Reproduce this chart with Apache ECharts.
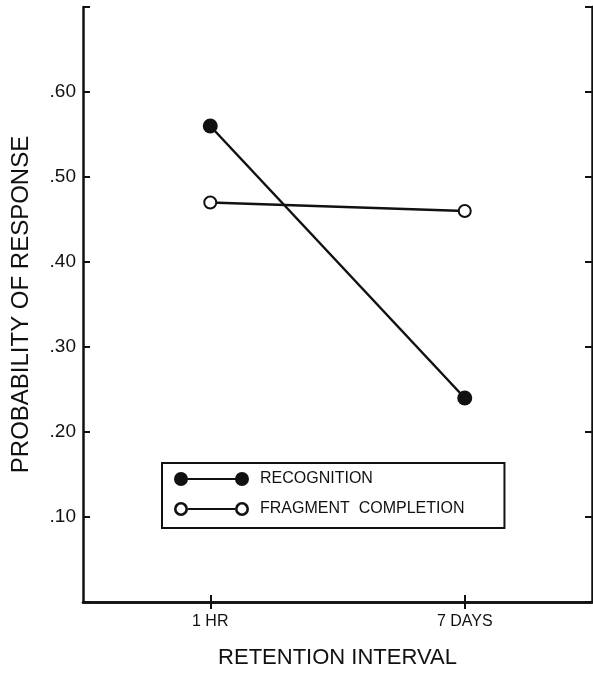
<!DOCTYPE html>
<html>
<head>
<meta charset="utf-8">
<script src="https://cdn.jsdelivr.net/npm/echarts@6/dist/echarts.min.js"></script>
<style>
html,body{margin:0;padding:0;background:#fff;}
#chart{width:593px;height:674px;}
</style>
</head>
<body>
<div id="chart"></div>
<script>
// ---- data ----
var categories = ['1 HR', '7 DAYS'];
var recognition = [0.56, 0.24];
var fragmentCompletion = [0.47, 0.46];
var seriesNames = ['RECOGNITION', 'FRAGMENT COMPLETION'];
var yTickValues = [0.1, 0.2, 0.3, 0.4, 0.5, 0.6];
var yTickLabels = ['.10', '.20', '.30', '.40', '.50', '.60'];
var xTitle = 'RETENTION INTERVAL';
var yTitle = 'PROBABILITY OF RESPONSE';

var INK = '#111';
var FONT = '"Liberation Sans", Arial, sans-serif';

// legend icons: marker - line - marker (75 x 14 box)
var filledIcon = 'path://M0,7A7,7 0 1,1 14,7A7,7 0 1,1 0,7Z' +
  'M61,7A7,7 0 1,1 75,7A7,7 0 1,1 61,7Z' +
  'M7,5.9L68,5.9L68,8.1L7,8.1Z';
var hollowIcon = 'path://M0,7A7,7 0 1,1 14,7A7,7 0 1,1 0,7Z' +
  'M2.6,7A4.4,4.4 0 1,0 11.4,7A4.4,4.4 0 1,0 2.6,7Z' +
  'M61,7A7,7 0 1,1 75,7A7,7 0 1,1 61,7Z' +
  'M63.6,7A4.4,4.4 0 1,0 72.4,7A4.4,4.4 0 1,0 63.6,7Z' +
  'M14,5.9L61,5.9L61,8.1L14,8.1Z';

function yLabel(v) {
  for (var i = 0; i < yTickValues.length; i++) {
    if (Math.abs(yTickValues[i] - v) < 1e-6) return yTickLabels[i];
  }
  return '';
}

var axisLine = {show: true, lineStyle: {color: INK, width: 2.5}};

var chart = echarts.init(document.getElementById('chart'), null, {renderer: 'canvas'});
chart.setOption({
  animation: false,
  backgroundColor: '#fff',
  grid: {left: 83, right: 1, top: 7, bottom: 69, containLabel: false},
  legend: {
    orient: 'vertical',
    left: 162,
    top: 463,
    padding: [8, 40, 11, 12],
    itemWidth: 75,
    itemHeight: 14,
    itemGap: 14,
    borderColor: INK,
    borderWidth: 2,
    borderRadius: 0,
    formatter: function (n) { return n.replace(' ', '  '); },
    textStyle: {color: INK, fontFamily: FONT, fontSize: 16, padding: [0, 0, 0, 6]},
    data: [
      {name: seriesNames[0], icon: filledIcon, itemStyle: {color: INK, borderWidth: 0}},
      {name: seriesNames[1], icon: hollowIcon, itemStyle: {color: INK, borderWidth: 0}}
    ]
  },
  xAxis: [
    {
      type: 'category',
      data: categories,
      position: 'bottom',
      boundaryGap: true,
      axisLine: axisLine,
      axisTick: {show: true, inside: true, alignWithLabel: true, length: 7, lineStyle: {color: INK, width: 2}},
      axisLabel: {color: INK, fontFamily: FONT, fontSize: 16, margin: 12},
      splitLine: {show: false},
      name: xTitle,
      nameLocation: 'middle',
      nameGap: 45,
      nameTextStyle: {color: INK, fontFamily: FONT, fontSize: 22}
    },
    {
      type: 'category',
      data: categories,
      position: 'top',
      boundaryGap: true,
      axisLine: axisLine,
      axisTick: {show: true, inside: true, alignWithLabel: true, length: 7, lineStyle: {color: INK, width: 2}},
      axisLabel: {show: false},
      splitLine: {show: false}
    }
  ],
  yAxis: [
    {
      type: 'value',
      min: 0,
      max: 0.7,
      interval: 0.1,
      position: 'left',
      axisLine: axisLine,
      axisTick: {show: true, inside: true, length: 7, lineStyle: {color: INK, width: 2}},
      axisLabel: {color: INK, fontFamily: FONT, fontSize: 19, margin: 7, formatter: yLabel},
      splitLine: {show: false},
      name: yTitle,
      nameLocation: 'middle',
      nameGap: 50,
      nameTextStyle: {color: INK, fontFamily: FONT, fontSize: 24}
    },
    {
      type: 'value',
      min: 0,
      max: 0.7,
      interval: 0.1,
      position: 'right',
      axisLine: axisLine,
      axisTick: {show: true, inside: true, length: 7, lineStyle: {color: INK, width: 2}},
      axisLabel: {show: false},
      splitLine: {show: false}
    }
  ],
  series: [
    {
      name: seriesNames[0],
      type: 'line',
      xAxisIndex: 0,
      yAxisIndex: 0,
      data: recognition,
      symbol: 'circle',
      symbolSize: 15,
      lineStyle: {color: INK, width: 2.5},
      itemStyle: {color: INK}
    },
    {
      name: seriesNames[1],
      type: 'line',
      xAxisIndex: 0,
      yAxisIndex: 0,
      data: fragmentCompletion,
      symbol: 'emptyCircle',
      symbolSize: 12,
      lineStyle: {color: INK, width: 2.5},
      itemStyle: {color: INK, borderWidth: 2.8}
    }
  ]
});
</script>
</body>
</html>
